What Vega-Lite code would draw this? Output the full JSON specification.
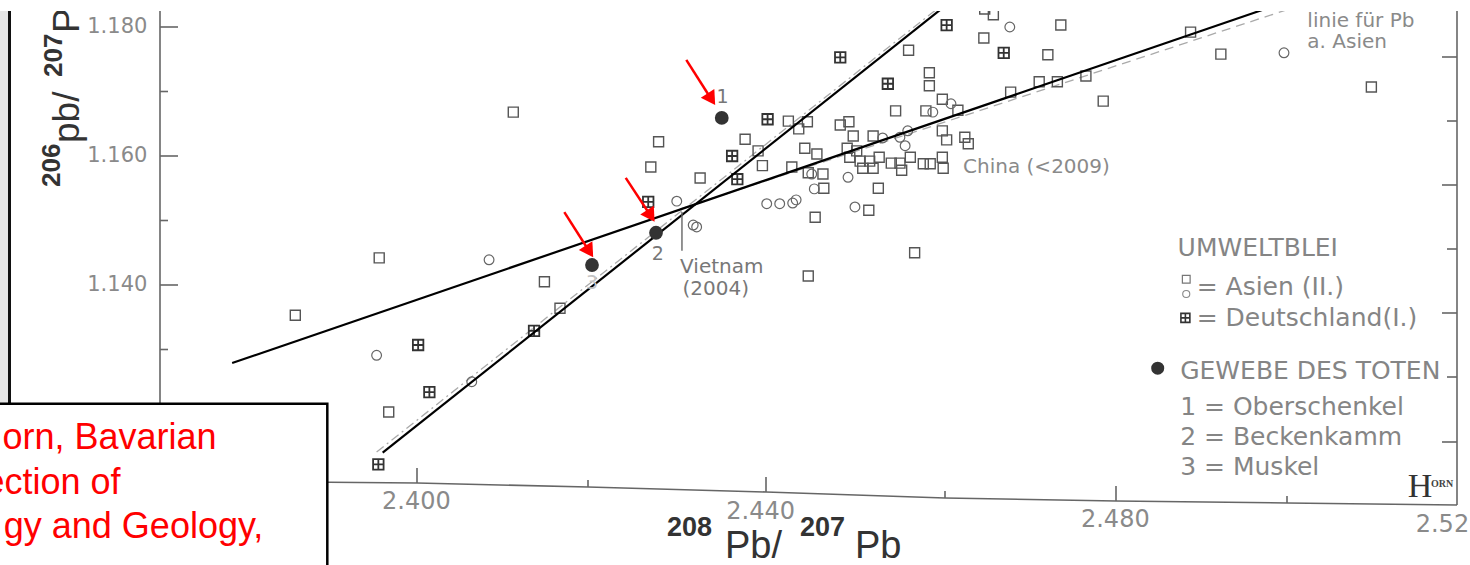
{
"$schema": "https://vega.github.io/schema/vega-lite/v6.json",
"width": 1470, "height": 565, "padding": 0, "autosize": {"type": "none"},
"background": "white",
"config": {"view": {"stroke": null}},
"datasets": {
"pts": [
{"x":2.4109,"y":1.1668,"g":"sq"},{"x":2.4277,"y":1.1622,"g":"sq"},{"x":2.4268,"y":1.1583,"g":"sq"},{"x":2.4325,"y":1.1566,"g":"sq"},
{"x":2.4377,"y":1.1626,"g":"sq"},{"x":2.4392,"y":1.1608,"g":"sq"},{"x":2.4397,"y":1.1585,"g":"sq"},{"x":2.4427,"y":1.1654,"g":"sq"},
{"x":2.4449,"y":1.1653,"g":"sq"},{"x":2.4439,"y":1.1642,"g":"sq"},{"x":2.4431,"y":1.1583,"g":"sq"},{"x":2.4446,"y":1.1612,"g":"sq"},
{"x":2.4460,"y":1.1603,"g":"sq"},{"x":2.4487,"y":1.1648,"g":"sq"},{"x":2.4497,"y":1.1653,"g":"sq"},{"x":2.4502,"y":1.1631,"g":"sq"},
{"x":2.4525,"y":1.1631,"g":"sq"},{"x":2.4495,"y":1.1612,"g":"sq"},{"x":2.4506,"y":1.1608,"g":"sq"},{"x":2.4498,"y":1.1598,"g":"sq"},
{"x":2.4510,"y":1.1592,"g":"sq"},{"x":2.4521,"y":1.1592,"g":"sq"},{"x":2.4532,"y":1.1598,"g":"sq"},{"x":2.4546,"y":1.1589,"g":"sq"},
{"x":2.4568,"y":1.1598,"g":"sq"},{"x":2.4556,"y":1.1589,"g":"sq"},{"x":2.4513,"y":1.1581,"g":"sq"},{"x":2.4525,"y":1.1581,"g":"sq"},
{"x":2.4558,"y":1.1578,"g":"sq"},{"x":2.4583,"y":1.1588,"g":"sq"},{"x":2.4591,"y":1.1588,"g":"sq"},{"x":2.4605,"y":1.1598,"g":"sq"},
{"x":2.4606,"y":1.1581,"g":"sq"},{"x":2.4467,"y":1.1572,"g":"sq"},{"x":2.4450,"y":1.1574,"g":"sq"},{"x":2.4531,"y":1.1550,"g":"sq"},
{"x":2.4468,"y":1.1550,"g":"sq"},{"x":2.4520,"y":1.1516,"g":"sq"},{"x":2.4458,"y":1.1505,"g":"sq"},{"x":2.4450,"y":1.1414,"g":"sq"},
{"x":2.4573,"y":1.1450,"g":"sq"},{"x":2.4145,"y":1.1405,"g":"sq"},{"x":2.3954,"y":1.1442,"g":"sq"},{"x":2.3857,"y":1.1353,"g":"sq"},
{"x":2.4163,"y":1.1364,"g":"sq"},{"x":2.3965,"y":1.1203,"g":"sq"},{"x":2.4551,"y":1.1670,"g":"sq"},{"x":2.4586,"y":1.1670,"g":"sq"},
{"x":2.4605,"y":1.1688,"g":"sq"},{"x":2.4623,"y":1.1671,"g":"sq"},{"x":2.4590,"y":1.1729,"g":"sq"},{"x":2.4590,"y":1.1709,"g":"sq"},
{"x":2.4566,"y":1.1764,"g":"sq"},{"x":2.4605,"y":1.1639,"g":"sq"},{"x":2.4610,"y":1.1625,"g":"sq"},{"x":2.4631,"y":1.1629,"g":"sq"},
{"x":2.4635,"y":1.1619,"g":"sq"},{"x":2.4654,"y":1.1828,"g":"sq"},{"x":2.4664,"y":1.1819,"g":"sq"},{"x":2.4653,"y":1.1783,"g":"sq"},
{"x":2.4684,"y":1.1699,"g":"sq"},{"x":2.4717,"y":1.1715,"g":"sq"},{"x":2.4738,"y":1.1715,"g":"sq"},{"x":2.4771,"y":1.1724,"g":"sq"},
{"x":2.4791,"y":1.1685,"g":"sq"},{"x":2.4727,"y":1.1757,"g":"sq"},{"x":2.4742,"y":1.1803,"g":"sq"},{"x":2.4892,"y":1.1792,"g":"sq"},
{"x":2.4927,"y":1.1758,"g":"sq"},{"x":2.5101,"y":1.1707,"g":"sq"},
{"x":2.4081,"y":1.1439,"g":"ci"},{"x":2.3951,"y":1.1291,"g":"ci"},{"x":2.4061,"y":1.1250,"g":"ci"},{"x":2.4298,"y":1.1530,"g":"ci"},
{"x":2.4317,"y":1.1493,"g":"ci"},{"x":2.4321,"y":1.1490,"g":"ci"},{"x":2.4402,"y":1.1526,"g":"ci"},{"x":2.4417,"y":1.1526,"g":"ci"},
{"x":2.4432,"y":1.1527,"g":"ci"},{"x":2.4436,"y":1.1532,"g":"ci"},{"x":2.4504,"y":1.1521,"g":"ci"},{"x":2.4457,"y":1.1549,"g":"ci"},
{"x":2.4454,"y":1.1572,"g":"ci"},{"x":2.4496,"y":1.1567,"g":"ci"},{"x":2.4536,"y":1.1628,"g":"ci"},{"x":2.4556,"y":1.1629,"g":"ci"},
{"x":2.4565,"y":1.1639,"g":"ci"},{"x":2.4562,"y":1.1616,"g":"ci"},{"x":2.4594,"y":1.1668,"g":"ci"},{"x":2.4615,"y":1.1681,"g":"ci"},
{"x":2.4683,"y":1.1800,"g":"ci"},{"x":2.5000,"y":1.1760,"g":"ci"},
{"x":2.3999,"y":1.1307,"g":"de"},{"x":2.4012,"y":1.1234,"g":"de"},{"x":2.3953,"y":1.1122,"g":"de"},{"x":2.4133,"y":1.1329,"g":"de"},
{"x":2.4265,"y":1.1529,"g":"de"},{"x":2.4362,"y":1.1600,"g":"de"},{"x":2.4368,"y":1.1564,"g":"de"},{"x":2.4403,"y":1.1657,"g":"de"},
{"x":2.4487,"y":1.1753,"g":"de"},{"x":2.4542,"y":1.1712,"g":"de"},{"x":2.4610,"y":1.1803,"g":"de"},{"x":2.4676,"y":1.1760,"g":"de"},
{"x":2.4350,"y":1.1659,"g":"fi"},{"x":2.4274,"y":1.1481,"g":"fi"},{"x":2.4200,"y":1.1431,"g":"fi"}
],
"legsym": [
{"x":2.4887,"y":1.1409,"g":"sq"},{"x":2.4887,"y":1.1386,"g":"ci"},{"x":2.4886,"y":1.1349,"g":"de"},{"x":2.4854,"y":1.1271,"g":"fi"}
],
"axrules": [
{"x":2.370058,"y":1.09,"x2":2.370058,"y2":1.1825},
{"x":2.370058,"y":1.18,"x2":2.372139,"y2":1.18},{"x":2.370058,"y":1.16,"x2":2.372139,"y2":1.16},{"x":2.370058,"y":1.14,"x2":2.372139,"y2":1.14},
{"x":2.370058,"y":1.17,"x2":2.370983,"y2":1.17},{"x":2.370058,"y":1.15,"x2":2.370983,"y2":1.15},{"x":2.370058,"y":1.13,"x2":2.370983,"y2":1.13},
{"x":2.52,"y":1.105891,"x2":2.52,"y2":1.1825},
{"x":2.52,"y":1.175349,"x2":2.518266,"y2":1.175349},{"x":2.52,"y":1.155504,"x2":2.518266,"y2":1.155504},
{"x":2.52,"y":1.135659,"x2":2.518266,"y2":1.135659},{"x":2.52,"y":1.115659,"x2":2.518266,"y2":1.115659},
{"x":2.52,"y":1.165426,"x2":2.518844,"y2":1.165426},{"x":2.52,"y":1.145581,"x2":2.518844,"y2":1.145581},{"x":2.52,"y":1.125736,"x2":2.518844,"y2":1.125736},
{"x":2.399769,"y":1.109302,"x2":2.399769,"y2":1.111628},{"x":2.419538,"y":1.108682,"x2":2.419538,"y2":1.109767},
{"x":2.440116,"y":1.107907,"x2":2.440116,"y2":1.110233},{"x":2.460809,"y":1.106977,"x2":2.460809,"y2":1.108062},
{"x":2.480578,"y":1.106512,"x2":2.480578,"y2":1.108837},{"x":2.500347,"y":1.106202,"x2":2.500347,"y2":1.107287}
],
"xaxis": [
{"i":0,"x":2.386243,"y":1.109457},{"i":1,"x":2.399769,"y":1.109302},{"i":2,"x":2.419538,"y":1.108682},{"i":3,"x":2.440116,"y":1.107907},
{"i":4,"x":2.460809,"y":1.106977},{"i":5,"x":2.480578,"y":1.106512},{"i":6,"x":2.500347,"y":1.106202},{"i":7,"x":2.52,"y":1.105891}
],
"solid": [{"x":2.3958,"y":1.1140,"x2":2.4617,"y2":1.1842},{"x":2.3784,"y":1.1279,"x2":2.5009,"y2":1.1842}],
"dashC": [{"x":2.3951,"y":1.1141,"x2":2.4612,"y2":1.1842}],
"dashD": [{"x":2.4302,"y":1.1518,"x2":2.5038,"y2":1.1842}],
"vtick": [{"x":2.4304,"y":1.1513,"x2":2.4304,"y2":1.1453}],
"shafts": [{"x":2.4309,"y":1.1749,"x2":2.4338,"y2":1.1688},{"x":2.4239,"y":1.1566,"x2":2.4268,"y2":1.1507},{"x":2.4168,"y":1.1513,"x2":2.4197,"y2":1.1452}],
"heads": [{"x":2.4338,"y":1.1688},{"x":2.4268,"y":1.1507},{"x":2.4197,"y":1.1452}],
"ylab": [{"t":"1.180","x":2.3686,"y":1.18},{"t":"1.160","x":2.3686,"y":1.16},{"t":"1.140","x":2.3686,"y":1.14}],
"xlab": [{"t":"2.400","x":2.3997,"y":1.106357},{"t":"2.440","x":2.4395,"y":1.104806},{"t":"2.480","x":2.4805,"y":1.103566},{"t":"2.520","x":2.5192,"y":1.102791}],
"ytitleN": [{"t":"P","x":2.360694,"y":1.17907},{"t":"pb/","x":2.360694,"y":1.162016}],
"ytitleB": [{"t":"207","x":2.358728,"y":1.172248},{"t":"206","x":2.358497,"y":1.155194}],
"xtitleN": [{"t":"Pb/","x":2.435376,"y":1.097674},{"t":"Pb","x":2.450405,"y":1.097674}],
"xtitleB": [{"t":"208","x":2.428671,"y":1.101085},{"t":"207","x":2.444046,"y":1.101085}],
"ptlab": [{"t":"1","x":2.4351,"y":1.1691},{"t":"2","x":2.4276,"y":1.1448}],
"ptlab3": [{"t":"3","x":2.4200,"y":1.1403}],
"ann": [{"t":"Vietnam","x":2.4350,"y":1.1428},{"t":"(2004)","x":2.4343,"y":1.1394}],
"china": [{"t":"China (<2009)","x":2.4629,"y":1.1583}],
"linie": [{"t":"linie für Pb","x":2.5027,"y":1.1810},{"t":"a. Asien","x":2.5027,"y":1.1777}],
"leg": [{"t":"UMWELTBLEI","x":2.4877,"y":1.1457},{"t":"= Asien (II.)","x":2.4899,"y":1.1397},{"t":"= Deutschland(I.)","x":2.4899,"y":1.1349},
{"t":"GEWEBE DES TOTEN","x":2.4880,"y":1.1267},{"t":"1 = Oberschenkel","x":2.4880,"y":1.1211},{"t":"2 = Beckenkamm","x":2.4880,"y":1.1164},{"t":"3 = Muskel","x":2.4880,"y":1.1118}],
"redtxt": [{"t":"orn, Bavarian","x":2.3766,"y":1.1146},{"t":"ection of","x":2.3655,"y":1.1076},{"t":"gy and Geology,","x":2.3820,"y":1.1008}],
"hornH": [{"t":"H","x":2.5143,"y":1.1071}],
"hornORN": [{"t":"ORN","x":2.516994,"y":1.1091}],
"strip": [{"x":2.34,"x2":2.352486,"y":1.09,"y2":1.19}],
"frame": [{"x":2.352659,"y":1.09,"x2":2.352659,"y2":1.19}],
"box": [{"x":2.33,"x2":2.3894,"y":1.08,"y2":1.1216}],
"band": [{"x":2.34,"x2":2.53,"y":1.182481,"y2":1.19}]
},
"encoding": {
"x": {"field":"x","type":"quantitative","scale":{"domain":[2.351561,2.521503],"nice":false,"zero":false},"axis":null},
"y": {"field":"y","type":"quantitative","scale":{"domain":[1.096589,1.184186],"nice":false,"zero":false},"axis":null}
},
"layer": [
{"data":{"name":"strip"},"mark":{"type":"rect","color":"#e6e6e6"},"encoding":{"x2":{"field":"x2"},"y2":{"field":"y2"}}},
{"data":{"name":"frame"},"mark":{"type":"rule","color":"#111","strokeWidth":3},"encoding":{"x2":{"field":"x2"},"y2":{"field":"y2"}}},
{"data":{"name":"axrules"},"mark":{"type":"rule","color":"#666","strokeWidth":1.6},"encoding":{"x2":{"field":"x2"},"y2":{"field":"y2"}}},
{"data":{"name":"xaxis"},"mark":{"type":"line","color":"#666","strokeWidth":1.6},"encoding":{"order":{"field":"i","type":"quantitative"}}},
{"data":{"name":"dashC"},"mark":{"type":"rule","color":"#aaaaaa","strokeWidth":1.3,"strokeDash":[9,4,2,4]},"encoding":{"x2":{"field":"x2"},"y2":{"field":"y2"}}},
{"data":{"name":"dashD"},"mark":{"type":"rule","color":"#aaaaaa","strokeWidth":1.3,"strokeDash":[9,6]},"encoding":{"x2":{"field":"x2"},"y2":{"field":"y2"}}},
{"data":{"name":"pts"},"transform":[{"filter":"datum.g === 'sq'"}],"mark":{"type":"point","shape":"square","filled":false,"color":"#555","strokeWidth":1.4,"size":100,"opacity":1}},
{"data":{"name":"pts"},"transform":[{"filter":"datum.g === 'ci'"}],"mark":{"type":"point","shape":"circle","filled":false,"color":"#666","strokeWidth":1.2,"size":95,"opacity":1}},
{"data":{"name":"pts"},"transform":[{"filter":"datum.g === 'de'"}],"mark":{"type":"point","shape":"M-1,-1L1,-1L1,1L-1,1ZM0,-1L0,1M-1,0L1,0","filled":false,"color":"#333","strokeWidth":1.8,"size":110,"opacity":1}},
{"data":{"name":"solid"},"mark":{"type":"rule","color":"#000","strokeWidth":2.2},"encoding":{"x2":{"field":"x2"},"y2":{"field":"y2"}}},
{"data":{"name":"pts"},"transform":[{"filter":"datum.g === 'fi'"}],"mark":{"type":"point","shape":"circle","filled":true,"color":"#333","size":190,"opacity":1}},
{"data":{"name":"vtick"},"mark":{"type":"rule","color":"#666","strokeWidth":1.4},"encoding":{"x2":{"field":"x2"},"y2":{"field":"y2"}}},
{"data":{"name":"legsym"},"transform":[{"filter":"datum.g === 'sq'"}],"mark":{"type":"point","shape":"square","filled":false,"color":"#777","strokeWidth":1.2,"size":60,"opacity":1}},
{"data":{"name":"legsym"},"transform":[{"filter":"datum.g === 'ci'"}],"mark":{"type":"point","shape":"circle","filled":false,"color":"#888","strokeWidth":1.1,"size":50,"opacity":1}},
{"data":{"name":"legsym"},"transform":[{"filter":"datum.g === 'de'"}],"mark":{"type":"point","shape":"M-1,-1L1,-1L1,1L-1,1ZM0,-1L0,1M-1,0L1,0","filled":false,"color":"#333","strokeWidth":1.6,"size":80,"opacity":1}},
{"data":{"name":"legsym"},"transform":[{"filter":"datum.g === 'fi'"}],"mark":{"type":"point","shape":"circle","filled":true,"color":"#333","size":170,"opacity":1}},
{"data":{"name":"ylab"},"mark":{"type":"text","font":"DejaVu Sans","fontSize":21,"color":"#8a8a8a","align":"right","baseline":"middle"},"encoding":{"text":{"field":"t"}}},
{"data":{"name":"xlab"},"mark":{"type":"text","font":"DejaVu Sans","fontSize":24,"color":"#8a8a8a","align":"center","baseline":"middle"},"encoding":{"text":{"field":"t"}}},
{"data":{"name":"ytitleN"},"mark":{"type":"text","font":"Liberation Sans","fontSize":37,"color":"#333","angle":270,"align":"left","baseline":"alphabetic"},"encoding":{"text":{"field":"t"}}},
{"data":{"name":"ytitleB"},"mark":{"type":"text","font":"Liberation Sans","fontSize":26,"fontWeight":"bold","color":"#333","angle":270,"align":"left","baseline":"alphabetic"},"encoding":{"text":{"field":"t"}}},
{"data":{"name":"xtitleN"},"mark":{"type":"text","font":"Liberation Sans","fontSize":38,"color":"#333","align":"left","baseline":"alphabetic"},"encoding":{"text":{"field":"t"}}},
{"data":{"name":"xtitleB"},"mark":{"type":"text","font":"Liberation Sans","fontSize":27,"fontWeight":"bold","color":"#333","align":"left","baseline":"alphabetic"},"encoding":{"text":{"field":"t"}}},
{"data":{"name":"ptlab"},"mark":{"type":"text","font":"DejaVu Sans","fontSize":19,"color":"#777","align":"center","baseline":"middle"},"encoding":{"text":{"field":"t"}}},
{"data":{"name":"ptlab3"},"mark":{"type":"text","font":"DejaVu Sans","fontSize":19,"color":"#c4c4c4","align":"center","baseline":"middle"},"encoding":{"text":{"field":"t"}}},
{"data":{"name":"ann"},"mark":{"type":"text","font":"DejaVu Sans","fontSize":20,"color":"#777","align":"center","baseline":"middle"},"encoding":{"text":{"field":"t"}}},
{"data":{"name":"china"},"mark":{"type":"text","font":"DejaVu Sans","fontSize":20,"color":"#8a8a8a","align":"left","baseline":"middle"},"encoding":{"text":{"field":"t"}}},
{"data":{"name":"linie"},"mark":{"type":"text","font":"DejaVu Sans","fontSize":20,"color":"#8a8a8a","align":"left","baseline":"middle"},"encoding":{"text":{"field":"t"}}},
{"data":{"name":"leg"},"mark":{"type":"text","font":"DejaVu Sans","fontSize":25,"color":"#858585","align":"left","baseline":"middle"},"encoding":{"text":{"field":"t"}}},
{"data":{"name":"hornH"},"mark":{"type":"text","font":"Liberation Serif","fontSize":34,"color":"#333","align":"left","baseline":"alphabetic"},"encoding":{"text":{"field":"t"}}},
{"data":{"name":"hornORN"},"mark":{"type":"text","font":"Liberation Serif","fontSize":10,"fontWeight":"bold","color":"#444","align":"left","baseline":"middle"},"encoding":{"text":{"field":"t"}}},
{"data":{"name":"shafts"},"mark":{"type":"rule","color":"#ff0000","strokeWidth":2.5},"encoding":{"x2":{"field":"x2"},"y2":{"field":"y2"}}},
{"data":{"name":"heads"},"mark":{"type":"point","shape":"triangle-down","filled":true,"color":"#ff0000","size":260,"angle":327,"opacity":1}},
{"data":{"name":"box"},"mark":{"type":"rect","fill":"white","stroke":"#000","strokeWidth":2.5},"encoding":{"x2":{"field":"x2"},"y2":{"field":"y2"}}},
{"data":{"name":"redtxt"},"mark":{"type":"text","font":"Liberation Sans","fontSize":36,"color":"#ff0000","align":"right","baseline":"alphabetic"},"encoding":{"text":{"field":"t"}}},
{"data":{"name":"band"},"mark":{"type":"rect","color":"white"},"encoding":{"x2":{"field":"x2"},"y2":{"field":"y2"}}}
]
}
